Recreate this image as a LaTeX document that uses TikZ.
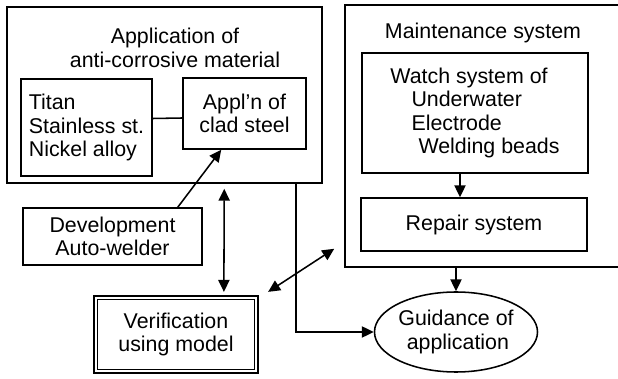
\documentclass[tikz,border=0pt]{standalone}
\usepackage{fontspec}
\setmainfont{Liberation Sans}
\usetikzlibrary{arrows.meta,shapes.geometric,calc}

\tikzset{
  pbox/.style 2 args={draw,line width=1.1pt,inner sep=0pt,
    minimum width=#1*0.025cm,minimum height=#2*0.025cm},
  flow/.style={line width=1.1pt,-{Triangle[length=8.5pt,width=8pt]}},
  bothflow/.style={line width=1.1pt,{Triangle[length=8.5pt,width=8pt]}-{Triangle[length=8.5pt,width=8pt]}}
}

\begin{document}
\begin{tikzpicture}[x=0.025cm,y=-0.025cm,
    font=\fontsize{15.2}{16.8}\selectfont]
    \clip (0,0) rectangle (618,379);
    % Materiaux anticorrosion
    \node[pbox={315}{176}] (appl) at (164.5,95) {};
    \node[align=center] (appltitle) at (175,48) {Application of\\anti-corrosive material};
    \node[pbox={131}{97},align=left] (metal) at (86.5,127.5) {Titan\\Stainless st.\\Nickel alloy};
    \node[pbox={123}{71},align=center] (clad) at (244.5,113.5) {Appl'n of\\clad steel};
    \draw[line width=1.1pt] ($(metal.east)+(0,-9)$) -- ($(clad.west)+(0,4.5)$);
    % Maintenance (bord droit hors cadre)
    \node[pbox={295}{262}] (maint) at (492.5,136) {};
    \node (mainttitle) at (483,33) {Maintenance system};
    \node[pbox={226}{120},align=left] (watch) at (475,113)
      {Watch system of\\\hspace*{15pt}Underwater\\\hspace*{15pt}Electrode\\\hspace*{20pt}Welding beads};
    \node[pbox={226}{53}] (repair) at (474,224.5) {Repair system};
    \draw[flow] ([xshift=-0.375cm]watch.south) -- ([xshift=-0.35cm]repair.north);
    % Soudeuse automatique et essais
    \node[pbox={179}{57},align=center] (devel) at (112.5,236.5) {Development\\Auto-welder};
    \node[pbox={164}{77},line width=1.6pt,align=center] (verif) at (176,334.5) {Verification\\using model};
    \draw[line width=0.9pt] ($(verif.north west)+(4.5,4.5)$) rectangle ($(verif.south east)+(-4.5,-4.5)$);
    % Guide d'application
    \node[draw,ellipse,line width=1.1pt,inner sep=0pt,minimum width=158*0.025cm,
      minimum height=80*0.025cm,align=left] (guide) at (456,332)
      {Guidance of\\\hspace*{6pt}application};
    % Liaisons
    \draw[flow] ($(devel.north east)+(-25,0)$) -- ($(clad.south west)+(39,0)$);
    \draw[bothflow] ($(appl.south west)+(218,5)$) -- ($(verif.north west)+(131,-3)$);
    \draw[bothflow] ($(verif.north east)+(9,-3)$) -- ($(maint.south west)+(-10,-19)$);
    \draw[flow] (guide.north |- maint.south) -- (guide.north);
    \draw[flow] ($(appl.south west)+(290,0)$) |- (guide.west);
\end{tikzpicture}
\end{document}
